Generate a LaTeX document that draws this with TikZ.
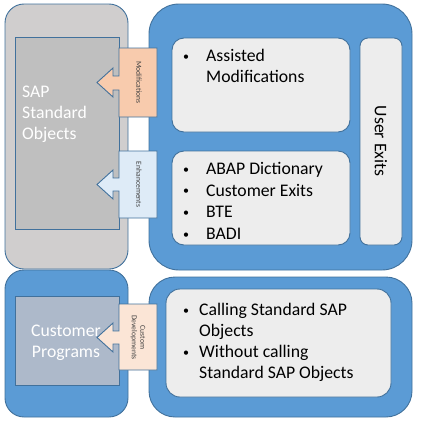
\documentclass[tikz,border=0pt]{standalone}
\usepackage{fontspec}
\setmainfont{Carlito}
\definecolor{edge}{HTML}{41719C}
\definecolor{bluefill}{HTML}{5B9BD5}
\definecolor{grayout}{HTML}{D0CECE}
\definecolor{grayin}{HTML}{BFBFBF}
\definecolor{lightbox}{HTML}{EDEDED}
\definecolor{modfill}{HTML}{F8CBAD}
\definecolor{enhfill}{HTML}{DEEBF7}
\definecolor{custfill}{HTML}{FBE5D6}
\definecolor{progfill}{HTML}{ADB9CA}
\definecolor{smalltext}{HTML}{404040}
\newcommand{\mybul}{\raisebox{1.3pt}{\fontsize{12}{12}\selectfont\textbullet}}
\tikzset{
  panel/.style={draw=edge, line width=0.9pt, anchor=north west, inner sep=0, outer sep=0},
  txt/.style={font=\fontsize{17.7}{21}\selectfont, inner sep=0, anchor=base west, text=black},
  wtxt/.style={font=\fontsize{17.7}{21}\selectfont, inner sep=0, text=white},
  small/.style={font=\fontsize{7.6}{8.6}\selectfont, inner sep=0, text=smalltext, rotate=-90, align=center},
  callout/.style={draw=edge, line width=0.9pt, line join=miter}
}
\begin{document}
\begin{tikzpicture}[x=1pt,y=-1pt]
\useasboundingbox (0,0) rectangle (423,423);
% outer panels
\node[panel, fill=grayout, rounded corners=19pt, minimum width=123pt, minimum height=265pt] (sapouter) at (5,4) {};
\node[panel, fill=bluefill, rounded corners=30pt, minimum width=263pt, minimum height=266pt] (enhouter) at (149,4) {};
\node[panel, fill=bluefill, rounded corners=19pt, minimum width=123pt, minimum height=147pt] (progouter) at (5,270) {};
\node[panel, fill=bluefill, rounded corners=26pt, minimum width=263pt, minimum height=140pt] (devouter) at (149,277) {};
% inner boxes
\node[panel, fill=grayin, minimum width=104pt, minimum height=192pt] (sap) at (15,37) {};
\node[panel, fill=progfill, minimum width=104pt, minimum height=89pt] (prog) at (15,296) {};
\node[panel, fill=lightbox, rounded corners=12pt, minimum width=178pt, minimum height=94pt] (assisted) at (172,38) {};
\node[panel, fill=lightbox, rounded corners=12pt, minimum width=178pt, minimum height=94pt] (abap) at (172,151) {};
\node[panel, fill=lightbox, rounded corners=8pt, minimum width=42pt, minimum height=207pt] (userexits) at (360,38) {};
\node[panel, fill=lightbox, rounded corners=14pt, minimum width=225pt, minimum height=108pt] (calling) at (166,289) {};
% callouts
\draw[callout, fill=modfill] (157,48) -- (157,117) -- (119,117) -- (119,90) -- (113,90) -- (113,97) -- (97,82.5) -- (113,68) -- (113,76) -- (119,76) -- (119,48) -- cycle;
\draw[callout, fill=enhfill] (157,151) -- (157,218) -- (119,218) -- (119,191) -- (113,191) -- (113,199) -- (97,184.5) -- (113,170) -- (113,178) -- (119,178) -- (119,151) -- cycle;
\draw[callout, fill=custfill] (157,304) -- (157,370) -- (119,370) -- (119,344) -- (113,344) -- (113,352) -- (97,337.5) -- (113,323) -- (113,331) -- (119,331) -- (119,304) -- cycle;
\node[small] (modtxt) at (139,82.5) {Modifications};
\node[small] (enhtxt) at (139,184.5) {Enhancements};
\node[small] (custtxt) at (138,337.5) {Custom\\Developments};
% left texts
\node[wtxt, anchor=base west] (sap1) at (22,97.5) {SAP};
\node[wtxt, anchor=base west] (sap2) at (22,118.7) {Standard};
\node[wtxt, anchor=base west] (sap3) at (22,139.9) {Objects};
\node[wtxt, anchor=base] (prog1) at (66,336.5) {Customer};
\node[wtxt, anchor=base] (prog2) at (66,357) {Programs};
% User Exits
\node[txt, anchor=center, rotate=-90] (uetxt) at (381,141) {User Exits};
% Assisted box
\node[txt] (b1) at (183,61.5) {\mybul};
\node[txt] (a1) at (206,61.5) {Assisted};
\node[txt] (a2) at (206,82.7) {Modifications};
% ABAP box
\node[txt] (b2) at (183,174.5) {\mybul};
\node[txt] (d1) at (206,174.5) {ABAP Dictionary};
\node[txt] (b3) at (183,196.2) {\mybul};
\node[txt] (d2) at (206,196.2) {Customer Exits};
\node[txt] (b4) at (183,217.9) {\mybul};
\node[txt] (d3) at (206,217.9) {BTE};
\node[txt] (b5) at (183,239.6) {\mybul};
\node[txt] (d4) at (206,239.6) {BADI};
% Calling box
\node[txt] (b6) at (183,315.7) {\mybul};
\node[txt] (c1) at (199,315.7) {Calling Standard SAP};
\node[txt] (c2) at (199,336.6) {Objects};
\node[txt] (b7) at (183,357.5) {\mybul};
\node[txt] (c3) at (199,357.5) {Without calling};
\node[txt] (c4) at (199,378.4) {Standard SAP Objects};
\end{tikzpicture}
\end{document}
